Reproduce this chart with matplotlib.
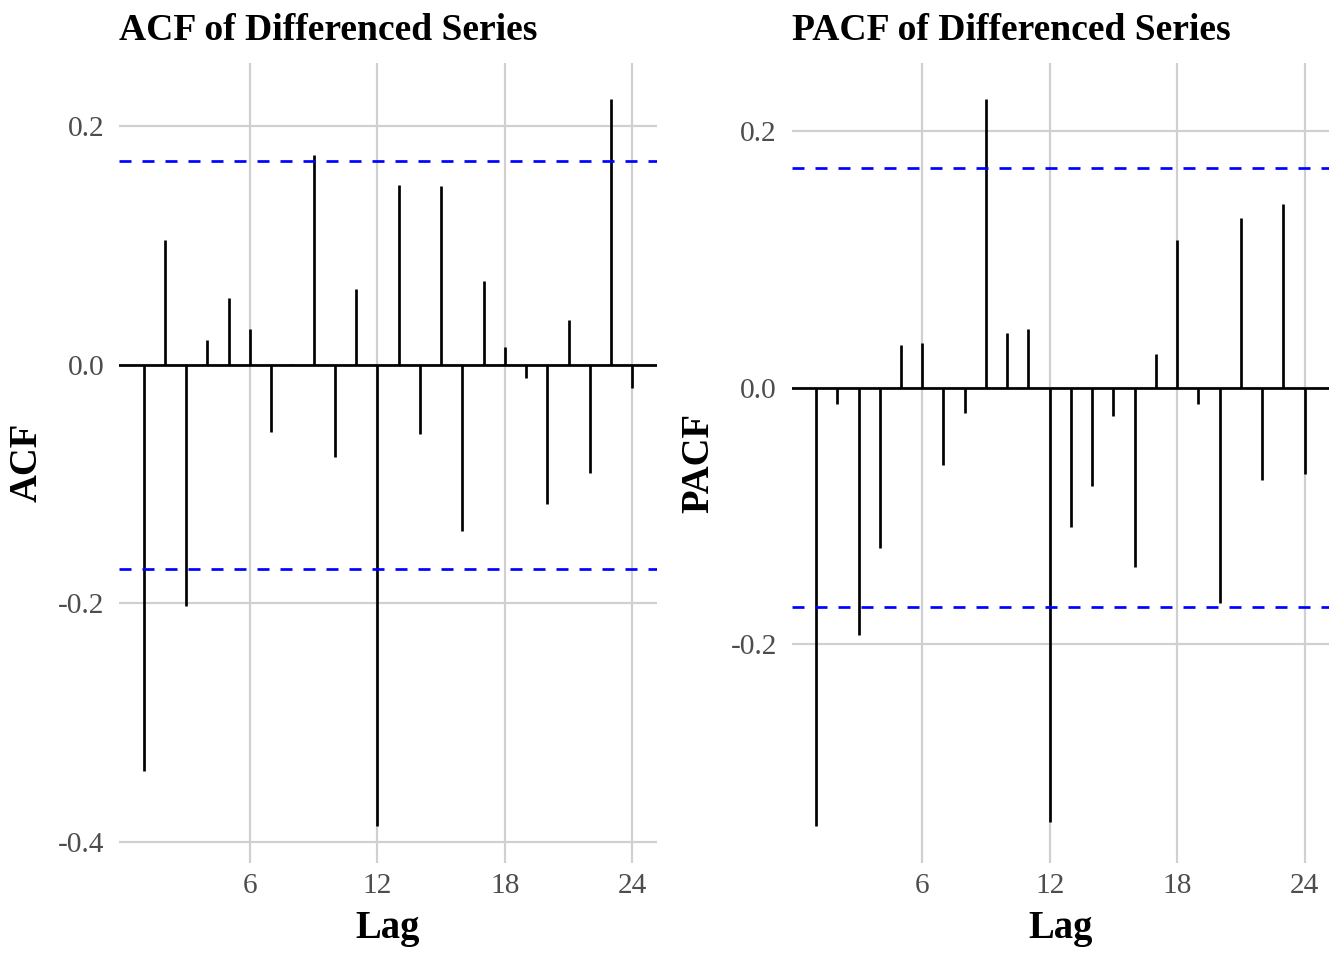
import matplotlib
matplotlib.use("Agg")
import matplotlib.pyplot as plt

lags = list(range(1, 25))
acf_vals = [-0.341, 0.105, -0.202, 0.021, 0.056, 0.030, -0.056, 0.001,
            0.176, -0.077, 0.064, -0.387, 0.151, -0.058, 0.150, -0.139,
            0.070, 0.015, -0.011, -0.117, 0.038, -0.091, 0.223, -0.019]
pacf_vals = [-0.342, -0.013, -0.193, -0.125, 0.033, 0.035, -0.060, -0.020,
             0.225, 0.043, 0.046, -0.339, -0.109, -0.077, -0.022, -0.140,
             0.026, 0.115, -0.013, -0.168, 0.132, -0.072, 0.143, -0.067]
conf_limit = 0.171

x_ticks = [6, 12, 18, 24]
x_tick_labels = ["6", "12", "18", "24"]
acf_y_ticks = [-0.4, -0.2, 0.0, 0.2]
acf_y_tick_labels = ["-0.4", "-0.2", "0.0", "0.2"]
pacf_y_ticks = [-0.2, 0.0, 0.2]
pacf_y_tick_labels = ["-0.2", "0.0", "0.2"]

titles = ["ACF of Differenced Series", "PACF of Differenced Series"]
ylabels = ["ACF", "PACF"]
xlabel = "Lag"

plt.rcParams['font.family'] = ['Liberation Serif', 'DejaVu Serif']
plt.rcParams['lines.scale_dashes'] = False

W, H = 1344, 960
DPI = 192
fig = plt.figure(figsize=(W / DPI, H / DPI), dpi=DPI, facecolor='white')

panel_w = 537.4
panel_h = 800.0
panel_top = 62.7
lefts = [119.3, 791.6]

grid_color = '#D0D0D0'
px = 72.0 / DPI

panels = [
    (acf_vals, acf_y_ticks, acf_y_tick_labels),
    (pacf_vals, pacf_y_ticks, pacf_y_tick_labels),
]

for i, (vals, yt, ytl) in enumerate(panels):
    ax = fig.add_axes([lefts[i] / W, 1 - (panel_top + panel_h) / H,
                       panel_w / W, panel_h / H])
    ax.set_facecolor('white')
    for s in ax.spines.values():
        s.set_visible(False)
    ax.set_axisbelow(True)
    ax.grid(True, color=grid_color, linewidth=2.2 * px)
    ax.vlines(lags, 0, vals, colors='black', linewidth=2.7 * px,
              capstyle='butt', zorder=3)
    ax.axhline(0, color='black', linewidth=2.7 * px, zorder=3)
    for c in (conf_limit, -conf_limit):
        ax.axhline(c, color='#0000FF', linewidth=2.7 * px,
                   linestyle=(0, (12 * px, 11 * px)), zorder=4)
    ax.margins(x=0.05, y=0.05)
    ax.set_xticks(x_ticks)
    ax.set_xticklabels(x_tick_labels)
    ax.set_yticks(yt)
    ax.set_yticklabels(ytl)
    ax.tick_params(axis='both', length=0, labelsize=11, labelcolor='#4D4D4D')
    ax.tick_params(axis='x', pad=4)
    ax.tick_params(axis='y', pad=5.5)

    ax.set_title(titles[i], loc='left', fontsize=14.1, fontweight='bold',
                 y=1 + 22.7 / panel_h, pad=0, va='baseline')
    ax.set_xlabel(xlabel, fontsize=14.5, fontweight='bold')
    ax.xaxis.set_label_coords(0.5, -(938 - (panel_top + panel_h)) / panel_h)
    ax.xaxis.label.set_va('baseline')
    ax.set_ylabel(ylabels[i], fontsize=14.5, fontweight='bold')
    label_x_px = 26.7 if i == 0 else 699.0
    ax.yaxis.set_label_coords((label_x_px - lefts[i]) / panel_w, 0.5)
    ax.yaxis.label.set_va('center')

fig.savefig('out.png', dpi=DPI, facecolor='white')
